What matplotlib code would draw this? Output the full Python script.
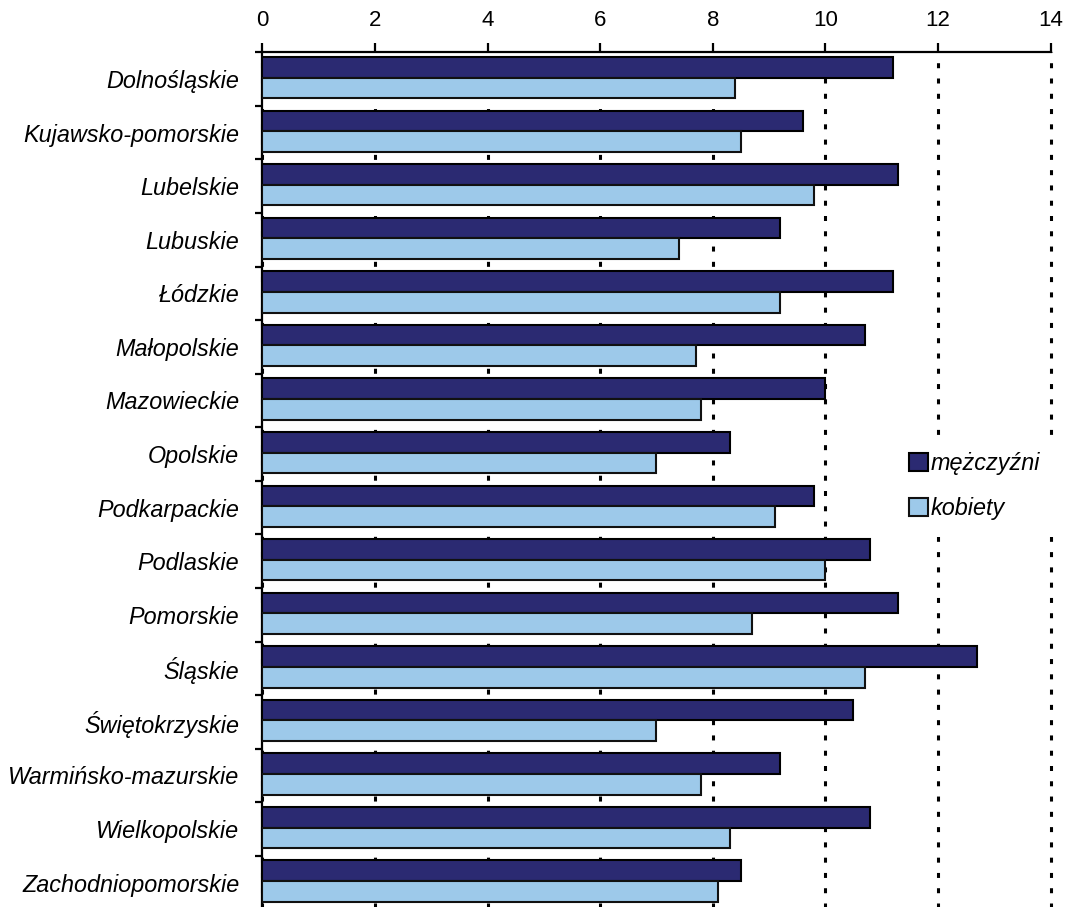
import matplotlib
matplotlib.use('Agg')
import matplotlib.pyplot as plt
import numpy as np
from matplotlib.ticker import FixedLocator, NullFormatter

regions = ['Dolnośląskie', 'Kujawsko-pomorskie', 'Lubelskie', 'Lubuskie', 'Łódzkie',
           'Małopolskie', 'Mazowieckie', 'Opolskie', 'Podkarpackie', 'Podlaskie',
           'Pomorskie', 'Śląskie', 'Świętokrzyskie', 'Warmińsko-mazurskie',
           'Wielkopolskie', 'Zachodniopomorskie']
men = [11.2, 9.6, 11.3, 9.2, 11.2, 10.7, 10.0, 8.3, 9.8, 10.8, 11.3, 12.7, 10.5, 9.2, 10.8, 8.5]
women = [8.4, 8.5, 9.8, 7.4, 9.2, 7.7, 7.8, 7.0, 9.1, 10.0, 8.7, 10.7, 7.0, 7.8, 8.3, 8.1]
series_labels = ['mężczyźni', 'kobiety']
xticks = [0, 2, 4, 6, 8, 10, 12, 14]

plt.rcParams['lines.scale_dashes'] = False
W, H = 1067, 907
fig = plt.figure(figsize=(W / 100, H / 100), dpi=100)
left_px, right_px, top_px, bottom_px = 262.3, 1050.5, 52.3, 909.4
ax = fig.add_axes([left_px / W, 1 - bottom_px / H, (right_px - left_px) / W, (bottom_px - top_px) / H])

y = np.arange(len(regions))
dark = '#2B2A72'
light = '#9DC9EA'
b1 = ax.barh(y - 0.22, men, height=0.386, color=dark, edgecolor='black', linewidth=1.5,
             label=series_labels[0], zorder=3)
b2 = ax.barh(y + 0.165, women, height=0.386, color=light, edgecolor='#111111', linewidth=1.5,
             label=series_labels[1], zorder=3)

ax.set_xlim(0, 14)
ax.set_ylim(len(regions) - 0.5, -0.5)

ax.xaxis.tick_top()
ax.set_xticks(xticks)
ax.set_xticklabels([str(t) for t in xticks], fontsize=16, fontfamily='Liberation Sans')
ax.tick_params(axis='x', which='major', direction='out', length=6.5, width=1.6, pad=8.5,
               colors='black')

ax.yaxis.set_major_locator(FixedLocator(np.arange(-0.5, len(regions) + 0.5, 1)))
ax.yaxis.set_major_formatter(NullFormatter())
ax.set_yticks(y, labels=regions, minor=True, fontstyle='italic', fontsize=16.8,
              fontfamily='Liberation Sans')
ax.tick_params(axis='y', which='major', direction='out', length=5.3, width=1.6)
ax.tick_params(axis='y', which='minor', length=0, pad=16.6)

for s in ['right', 'bottom']:
    ax.spines[s].set_visible(False)
for s in ['top', 'left']:
    ax.spines[s].set_linewidth(1.6)
    ax.spines[s].set_color('black')

ax.set_axisbelow(True)
ax.xaxis.grid(True, which='major', color='black', linewidth=2.2, linestyle=(0, (3.6, 7.4)))
for gl in ax.get_xgridlines():
    gl.set_clip_on(False)

leg = fig.legend([b1, b2], series_labels, loc='center left',
                 bbox_to_anchor=(892.4 / W, 1 - 485.9 / H), frameon=True, facecolor='white',
                 edgecolor='none', framealpha=1, fancybox=False, borderpad=0.72,
                 handlelength=0.82, handleheight=0.82, handletextpad=0.1, labelspacing=0.95,
                 borderaxespad=0,
                 prop={'family': 'Liberation Sans', 'style': 'italic', 'size': 16.8})
leg.set_zorder(10)

fig.savefig('out.png', dpi=100)
